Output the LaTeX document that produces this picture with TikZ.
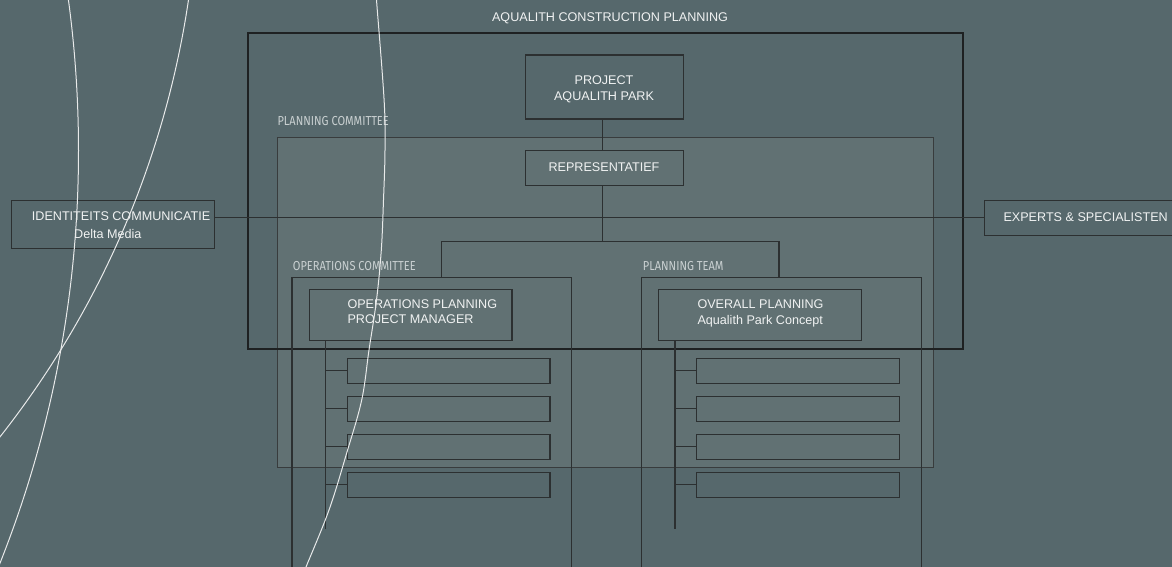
\documentclass[tikz,border=0pt]{standalone}
\usepackage{fontspec}
\setmainfont{Liberation Sans}
\newfontfamily\labelfont[FakeStretch=0.85]{Fira Sans}
\definecolor{bg}{HTML}{56686C}
\definecolor{pcfill}{HTML}{617173}
\definecolor{edge}{HTML}{2C3031}
\definecolor{pcedge}{HTML}{383C3D}
\definecolor{frameedge}{HTML}{1E2122}
\definecolor{txt}{HTML}{F0F2F2}
\definecolor{lbl}{HTML}{C9D0D1}
\definecolor{curve}{HTML}{E8EAEA}
\tikzset{
  box/.style={draw=edge, line width=1.2pt, anchor=north west, inner sep=0pt, outer sep=0pt},
  subbox/.style={box, minimum width=202.7, minimum height=25},
  txtstyle/.style={text=txt, font=\fontsize{12.6}{15}\selectfont, inner sep=0pt, anchor=base west},
  lblstyle/.style={text=lbl, font=\labelfont\fontsize{13}{15}\selectfont, inner sep=0pt, anchor=base west},
  conn/.style={draw=edge, line width=1.2pt},
  arcline/.style={draw=curve, line width=1pt}
}
\begin{document}
\begin{tikzpicture}[x=1pt,y=-1pt]
\useasboundingbox (0,0) rectangle (1172,567);
\fill[bg] (0,0) rectangle (1172,567);

% planning committee area
\node[box, draw=pcedge, line width=1pt, fill=pcfill, minimum width=655.6, minimum height=329.6] (pc) at (277.7,137.7) {};
% outer frame
\node[box, draw=frameedge, line width=2pt, minimum width=715.8, minimum height=316] (outer) at (247.5,33) {};
% committee boxes
\node[box, minimum width=279.7, minimum height=300] (opsbox) at (292,277.3) {};
\node[box, minimum width=280, minimum height=300] (ptbox) at (641.7,277.3) {};
% main boxes
\node[box, minimum width=157.6, minimum height=64] (project) at (525.7,55) {};
\node[box, minimum width=157.6, minimum height=35.4] (repr) at (525.7,150.3) {};
\node[box, minimum width=203, minimum height=48.4] (ident) at (11.3,200.3) {};
\node[box, minimum width=200, minimum height=35] (experts) at (984.3,200.3) {};
\node[box, minimum width=202.7, minimum height=51.4] (opsplan) at (309.3,289.3) {};
\node[box, minimum width=203, minimum height=51.4] (ovplan) at (658.7,289.3) {};
% sub boxes
\node[subbox] (os1) at (347.3,358.3) {};
\node[subbox] (os2) at (347.3,396.3) {};
\node[subbox] (os3) at (347.3,434.3) {};
\node[subbox] (os4) at (347.3,472.3) {};
\node[subbox] (ps1) at (696.7,358.3) {};
\node[subbox] (ps2) at (696.7,396.3) {};
\node[subbox] (ps3) at (696.7,434.3) {};
\node[subbox] (ps4) at (696.7,472.3) {};

% connectors
\coordinate (bj) at (602.7,241.7);
\coordinate (bl) at (441.7,241.7);
\coordinate (br) at (779,241.7);
\draw[conn] (bj |- project.south) -- (bj |- repr.north);
\draw[conn] (bj |- repr.south) -- (bj);
\draw[conn] (bl |- opsbox.north) -- (bl) -- (br) -- (br |- ptbox.north);
\draw[conn, line width=1pt] (ident.east |- experts.west) -- (experts.west);
\coordinate (oend) at (325.3,529.3);
\coordinate (pend) at (675,529.3);
\draw[conn] (oend |- opsplan.south) -- (oend);
\draw[conn] (pend |- ovplan.south) -- (pend);
\foreach \s in {os1,os2,os3,os4}{\draw[conn] (oend |- \s.west) -- (\s.west);}
\foreach \s in {ps1,ps2,ps3,ps4}{\draw[conn] (pend |- \s.west) -- (\s.west);}

% texts
\node[txtstyle, anchor=base] (title) at (610,21.6) {AQUALITH CONSTRUCTION PLANNING};
\node[txtstyle, anchor=base] (t1) at (604,84.3) {PROJECT};
\node[txtstyle, anchor=base] (t2) at (604,101) {AQUALITH PARK};
\node[txtstyle, anchor=base] (t3) at (604,171) {REPRESENTATIEF};
\node[txtstyle] (t4) at (31.7,220.3) {IDENTITEITS COMMUNICATIE};
\node[txtstyle] (t5) at (74,238) {Delta Media};
\node[txtstyle] (t6) at (1003.3,221) {EXPERTS \& SPECIALISTEN};
\node[txtstyle] (t7) at (347.3,308) {OPERATIONS PLANNING};
\node[txtstyle] (t8) at (347.3,323.3) {PROJECT MANAGER};
\node[txtstyle] (t9) at (697.3,308) {OVERALL PLANNING};
\node[txtstyle] (t10) at (697.3,324.7) {Aqualith Park Concept};
\node[lblstyle] (l1) at (277.3,126) {PLANNING COMMITTEE};
\node[lblstyle] (l2) at (292.7,270) {OPERATIONS COMMITTEE};
\node[lblstyle] (l3) at (642.7,270) {PLANNING TEAM};

% decorative arcs
\begin{scope}
\clip (0,0) rectangle (1172,567);
\draw[arcline] (-1040,150.7) circle[radius=1118.5];
\draw[arcline] (-729.8,-136.9) circle[radius=928.3];
\draw[arcline] plot[smooth, tension=0.6] coordinates {(375.8,-10) (376.5,0) (384.1,100) (385,150) (383.5,200) (381.3,250) (376.5,300) (369,350) (361.7,400) (347,452) (329,510) (306,567) (302,577)};
\end{scope}
\end{tikzpicture}
\end{document}
